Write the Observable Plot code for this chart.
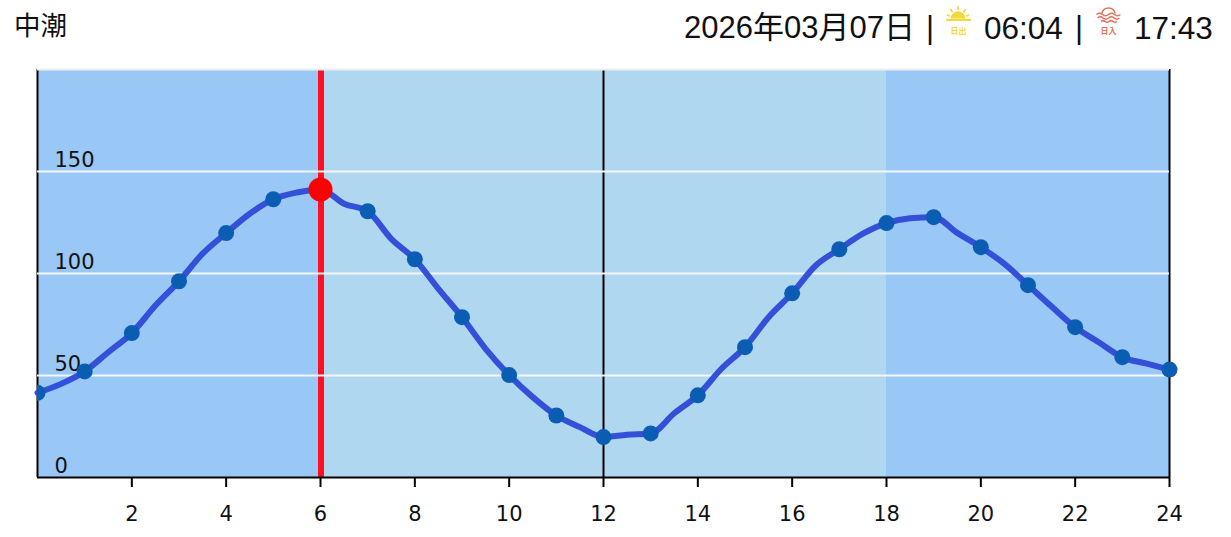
<!DOCTYPE html>
<html><head><meta charset="utf-8">
<script src="https://cdn.jsdelivr.net/npm/d3@7"></script>
<script src="https://cdn.jsdelivr.net/npm/@observablehq/plot@0.6"></script>
<style>
html,body{margin:0;padding:0;background:#fff;overflow:hidden}
#hdr{position:relative;height:60px;width:1231px;font-family:"Liberation Sans","Noto Sans CJK JP",sans-serif;font-size:31.5px;color:#111}
#hdr span,#hdr svg{position:absolute;white-space:pre}
#hdr span{top:10px;line-height:36px;height:36px}
svg.plot{display:block}
</style></head><body>
<div id="hdr">
<span id="tideName" style="left:14px;top:8px;font-size:26.5px"></span>
<span id="dateText" style="left:684px;font-size:31px"></span>
<span style="left:926px;font-size:31px">|</span>
<svg style="left:945px;top:3px" width="30" height="34" viewBox="0 0 30 34" fill="#efd93f" stroke="none">
  <path d="M5.7 15.6a7.3 7.3 0 0 1 14.6 0z"/>
  <rect x="1.5" y="15.8" width="24.5" height="2.2"/>
  <g stroke="#efd93f" stroke-width="1.6" stroke-linecap="round">
    <line x1="13" y1="3.8" x2="13" y2="6.6"/><line x1="5.5" y1="6.5" x2="7.2" y2="8.8"/><line x1="20.5" y1="6.5" x2="18.8" y2="8.8"/>
    <line x1="2.5" y1="12" x2="4.6" y2="13"/><line x1="23.5" y1="12" x2="21.4" y2="13"/>
  </g>
  <text x="13.5" y="31" text-anchor="middle" font-size="8" font-family="Noto Sans CJK JP" font-weight="700">日出</text>
</svg>
<span style="left:984px">06:04</span>
<span style="left:1075px;font-size:31px">|</span>
<svg style="left:1095px;top:3px" width="30" height="34" viewBox="0 0 30 34" fill="none" stroke="#e8705a" stroke-width="1.5">
  <path d="M7 10.5a6.5 5.5 0 0 1 13 0"/>
  <path d="M1.5 11.5q3-2.4 6 0t6 0t6 0t6 0"/>
  <path d="M2.5 15q3-2.4 5.5 0t5.5 0t5.5 0t5.5 0"/>
  <path d="M6 18.5q2-1.8 4 0t4 0t4 0t4 0"/>
  <text x="13.5" y="31" text-anchor="middle" font-size="8" font-family="Noto Sans CJK JP" font-weight="700" fill="#e8705a" stroke="none">日入</text>
</svg>
<span style="left:1134px">17:43</span>
</div>
<div id="chart"></div>
<script>
const tideName="中潮", dateLabel="2026年03月07日";
const hours=d3.range(0,24.5,0.5);
const tide=[41.5,45.9,52,61.4,70.8,84.3,96.2,109.7,119.8,129.3,136.4,139.7,141.2,
  134.2,130.5,117,107,92.5,78.6,63.1,50.2,39.4,30.4,24.7,19.8,
  21.0,21.6,31.5,40.3,53.3,63.9,78.6,90.3,103.9,111.9,119.5,124.7,
  127.1,127.6,119.9,112.9,104.7,94.3,83.8,73.7,66.3,59,55.9,52.9];
const bandStart=[0,6,18], bandEnd=[6,18,24], bandFill=["#99c8f7","#b0d7f0","#99c8f7"];
const grid=[50,100,150], yLabels=[0,50,100,150], xTicks=d3.range(2,25,2), blackRules=[0,12,24], nowHour=6;
const rows=hours.map((h,i)=>({h,v:tide[i]}));
const hourly=rows.filter(d=>Number.isInteger(d.h));
const bands=bandStart.map((a,i)=>({a,b:bandEnd[i],c:bandFill[i]}));
document.getElementById("tideName").textContent=tideName;
document.getElementById("dateText").textContent=dateLabel;
const plot=Plot.plot({
  width:1231,height:477,marginTop:9,marginBottom:60,marginLeft:37,marginRight:62,
  style:{fontFamily:"'DejaVu Sans',sans-serif",fontSize:"21px",color:"#111",background:"transparent"},
  x:{type:"linear",domain:[0,24],label:null,axis:null},
  y:{type:"linear",domain:[0,200],label:null,axis:null},
  marks:[
    Plot.rect(bands,{x1:"a",x2:"b",y1:0,y2:200,fill:"c"}),
    Plot.text(yLabels,{x:0,y:d=>d,text:d=>String(d),textAnchor:"start",dx:17,dy:-11.5,fill:"#111",fontSize:21}),
    Plot.ruleX(blackRules,{stroke:"#000",strokeWidth:2}),
    Plot.ruleX([nowHour],{stroke:"#ff0f24",strokeWidth:6,dx:0.5}),
    Plot.ruleY(grid,{stroke:"#f4f6f8",strokeWidth:2}),
    Plot.ruleY([200],{stroke:"#eeeeee",strokeWidth:2}),
    Plot.line(rows,{x:"h",y:"v",stroke:"#3450d8",strokeWidth:6,curve:"monotone-x"}),
    Plot.dot(hourly.slice(0,1),{x:"h",y:"v",r:8,fill:"#0b5db3",clip:"frame"}),
    Plot.dot(hourly.slice(1),{x:"h",y:"v",r:8,fill:"#0b5db3"}),
    Plot.dot(hourly.filter(d=>d.h===nowHour),{x:"h",y:"v",r:12,fill:"#ff0000"}),
    Plot.ruleY([0],{stroke:"#000",strokeWidth:2}),
    Plot.axisX({ticks:xTicks,tickSize:10,tickPadding:19,tickFormat:d=>String(d),stroke:"#000",strokeWidth:2,label:null,fontSize:21,textStroke:"none"})
  ]
});
document.getElementById("chart").append(plot);
</script></body></html>
